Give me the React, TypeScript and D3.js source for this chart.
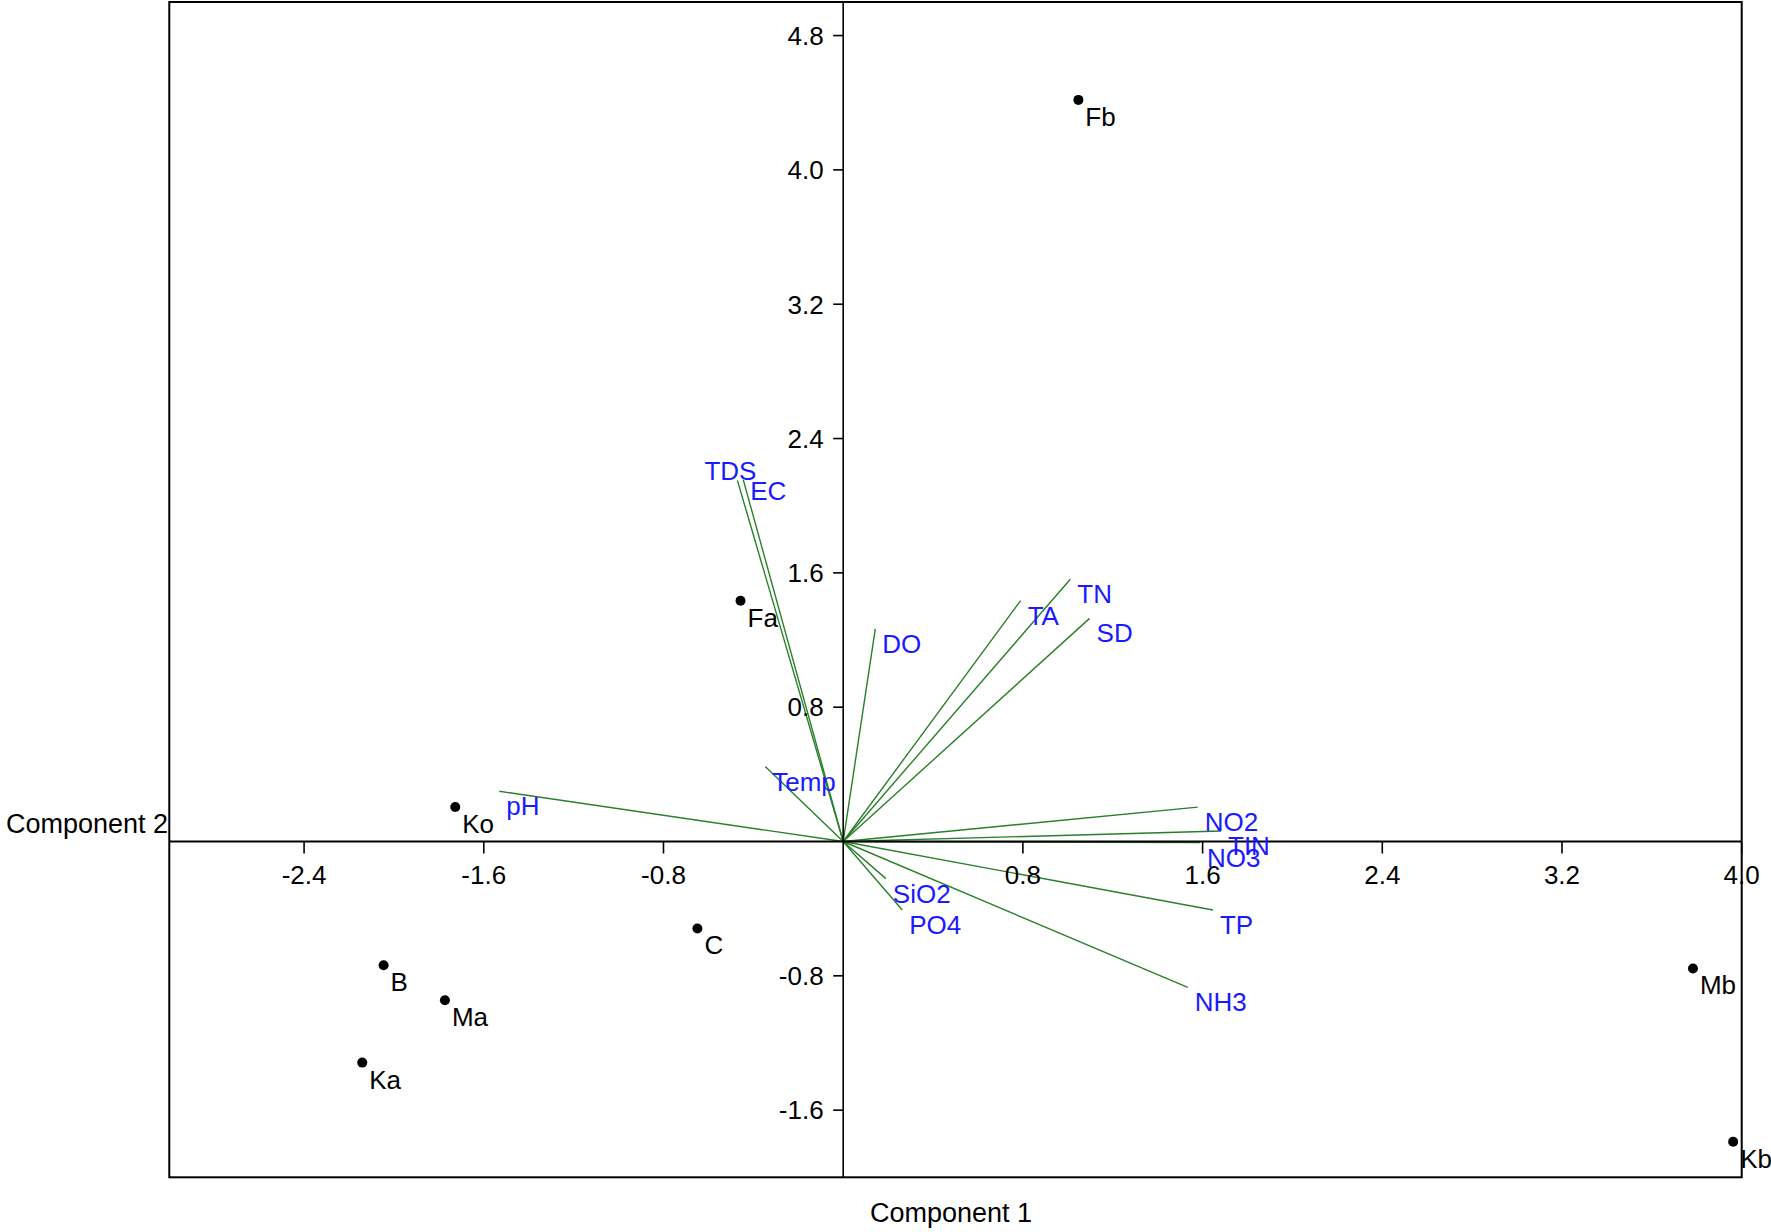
import React from "react";
import * as d3 from "d3";

// Sample scores (Component 1, Component 2)
const siteNames = ["Fb", "Fa", "Ko", "C", "B", "Ma", "Ka", "Mb", "Kb"];
const siteComp1 = [1.047, -0.457, -1.727, -0.649, -2.046, -1.773, -2.141, 3.783, 3.962];
const siteComp2 = [4.417, 1.434, 0.206, -0.518, -0.737, -0.945, -1.317, -0.756, -1.788];

// Variable loadings (biplot vectors)
const varNames = ["TDS", "EC", "DO", "Temp", "pH", "TA", "TN", "SD", "NO2", "TIN", "NO3", "TP", "NH3", "SiO2", "PO4"];
const varComp1 = [-0.471, -0.445, 0.143, -0.347, -1.531, 0.79, 1.011, 1.097, 1.578, 1.682, 1.588, 1.646, 1.534, 0.19, 0.263];
const varComp2 = [2.151, 2.155, 1.266, 0.446, 0.299, 1.435, 1.562, 1.329, 0.205, 0.0625, -0.0065, -0.408, -0.869, -0.221, -0.408];

const xTicks = [-2.4, -1.6, -0.8, 0.8, 1.6, 2.4, 3.2, 4.0];
const yTicks = [4.8, 4.0, 3.2, 2.4, 1.6, 0.8, -0.8, -1.6];
const xDomain = [-3, 4];
const yDomain = [-2, 5];

const FONT = "'Liberation Sans', Arial, Helvetica, sans-serif";

export default function App() {
  const W = 1771;
  const H = 1232;
  const left = 169.3;
  const right = 1741.7;
  const top = 2;
  const bottom = 1177.3;

  const x = d3.scaleLinear().domain(xDomain).range([left, right]);
  const y = d3.scaleLinear().domain(yDomain).range([bottom, top]);
  const x0 = x(0);
  const y0 = y(0);
  const f = d3.format(".1f");
  const fmt = (v: number) => f(v).replace("\u2212", "-");

  const labelAdjust: Record<string, { dx: number; dy: number; anchor?: string }> = {
    TDS: { dx: 19, dy: 0, anchor: "end" },
    EC: { dx: 7, dy: 20 },
  };

  return (
    <svg
      width={W}
      height={H}
      style={{ position: "absolute", left: 0, top: 0, background: "#fff" }}
      fontFamily={FONT}
    >
      <rect x={0} y={0} width={W} height={H} fill="#fff" />

      {/* vectors */}
      {varNames.map((n, i) => (
        <line
          key={"v" + n}
          x1={x0}
          y1={y0}
          x2={x(varComp1[i])}
          y2={y(varComp2[i])}
          stroke="#2a7f2a"
          strokeWidth={1.4}
        />
      ))}

      {/* axes through origin */}
      <line x1={left} x2={right} y1={y0} y2={y0} stroke="#000" strokeWidth={2} />
      <line x1={x0} x2={x0} y1={top} y2={bottom} stroke="#000" strokeWidth={1.6} />

      {/* frame */}
      <rect
        x={left}
        y={top}
        width={right - left}
        height={bottom - top}
        fill="none"
        stroke="#000"
        strokeWidth={2}
      />

      {/* x ticks */}
      {xTicks.map((t) => (
        <g key={"xt" + t}>
          <line x1={x(t)} x2={x(t)} y1={y0} y2={y0 + 12} stroke="#000" strokeWidth={1.6} />
          <text x={x(t)} y={y0 + 42} textAnchor="middle" fontSize={26} fill="#000">
            {fmt(t)}
          </text>
        </g>
      ))}

      {/* y ticks */}
      {yTicks.map((t) => (
        <g key={"yt" + t}>
          <line x1={x0 - 10} x2={x0} y1={y(t)} y2={y(t)} stroke="#000" strokeWidth={1.6} />
          <text x={x0 - 19.5} y={y(t) + 9.3} textAnchor="end" fontSize={26} fill="#000">
            {fmt(t)}
          </text>
        </g>
      ))}

      {/* vector labels */}
      {varNames.map((n, i) => {
        const adj = labelAdjust[n] || { dx: 7, dy: 24 };
        return (
          <text
            key={"vl" + n}
            x={x(varComp1[i]) + adj.dx}
            y={y(varComp2[i]) + adj.dy}
            textAnchor={adj.anchor || "start"}
            fontSize={26}
            fill="#1a1aff"
          >
            {n}
          </text>
        );
      })}

      {/* sample points */}
      {siteNames.map((n, i) => (
        <g key={"s" + n}>
          <circle cx={x(siteComp1[i])} cy={y(siteComp2[i])} r={5} fill="#000" />
          <text
            x={x(siteComp1[i]) + 7}
            y={y(siteComp2[i]) + 26}
            fontSize={26}
            fill="#000"
          >
            {n}
          </text>
        </g>
      ))}

      {/* axis titles */}
      <text x={168} y={y0 - 9} textAnchor="end" fontSize={27} fill="#000">
        Component 2
      </text>
      <text x={870} y={1221.7} textAnchor="start" fontSize={27} fill="#000">
        Component 1
      </text>
    </svg>
  );
}
